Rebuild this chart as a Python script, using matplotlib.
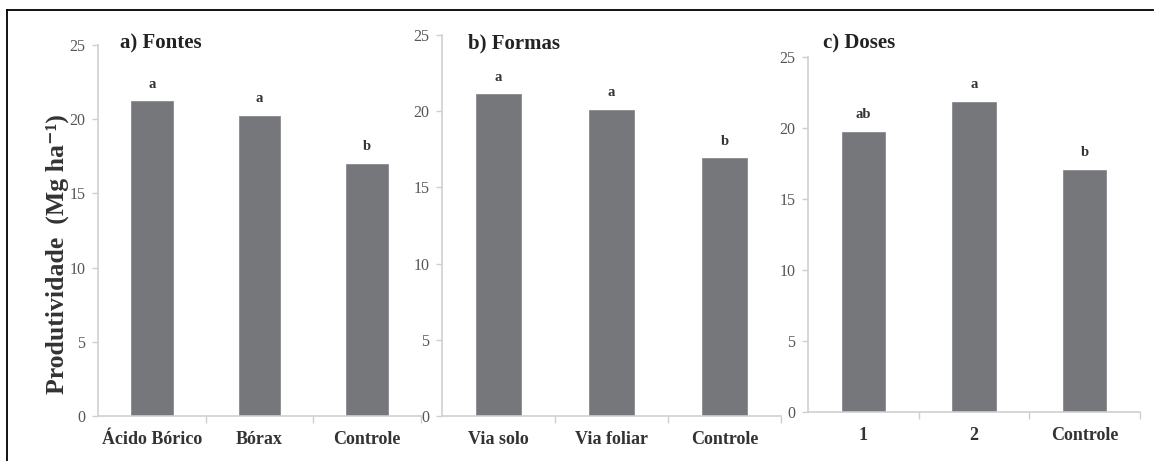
import numpy as np
import matplotlib.pyplot as plt
from matplotlib.lines import Line2D

plt.rcParams['font.family'] = ['Liberation Serif', 'DejaVu Serif']

# produtividade por tratamento (Mg ha-1)
fontes_labels = ['Ácido Bórico', 'Bórax', 'Controle']
fontes_vals = [21.2, 20.2, 17.0]
fontes_letras = ['a', 'a', 'b']

formas_labels = ['Via solo', 'Via foliar', 'Controle']
formas_vals = [21.1, 20.1, 16.9]
formas_letras = ['a', 'a', 'b']

doses_labels = ['1', '2', 'Controle']
doses_vals = [19.7, 21.8, 17.0]
doses_letras = ['ab', 'a', 'b']

titles = ['a) Fontes', 'b) Formas', 'c) Doses']

W, H = 1155, 461
fig = plt.figure(figsize=(W / 100, H / 100), dpi=100)

def box(x0, x1, ytop, ybot):
    return [x0 / W, 1 - ybot / H, (x1 - x0) / W, (ybot - ytop) / H]

# panel boxes in pixels: left, right, top (y=25), bottom (y=0), title pos
panels = [
    (box(98, 421, 45, 416), fontes_labels, fontes_vals, fontes_letras, (120, 43)),
    (box(442, 781, 35, 416), formas_labels, formas_vals, formas_letras, (468, 43)),
    (box(808, 1140, 56.7, 411.7), doses_labels, doses_vals, doses_letras, (823, 43)),
]

bar_color = '#76777b'
axis_color = '#cfcfcf'

for (rect, labels, vals, letras, tpos), title in zip(panels, titles):
    ax = fig.add_axes(rect)
    x = np.arange(len(vals)) + 0.5
    bars = ax.bar(x, vals, width=0.39, color=bar_color, edgecolor='#8a8b8f', linewidth=0.6)
    for b, v, l in zip(bars, vals, letras):
        ax.annotate(l, (b.get_x() + b.get_width() / 2, v), xytext=(0, 10),
                    textcoords='offset points', ha='center', va='baseline',
                    fontsize=10.5, fontweight='bold', color='#333333')
    ax.set_xlim(0, 3)
    ax.set_ylim(0, 25)
    ax.set_yticks([0, 5, 10, 15, 20, 25])
    ax.set_xticks(x)
    ax.set_xticklabels(labels, fontsize=13, fontweight='bold', color='#333333')
    ax.set_xticks([1, 2, 3], minor=True)
    ax.tick_params(axis='x', which='major', length=0, pad=11)
    ax.tick_params(axis='x', which='minor', length=5, color=axis_color, width=1)
    ax.tick_params(axis='y', length=4, color=axis_color, width=1,
                   labelsize=11.5, labelcolor='#555555', pad=5)
    for s in ['top', 'right']:
        ax.spines[s].set_visible(False)
    for s in ['left', 'bottom']:
        ax.spines[s].set_color(axis_color)
        ax.spines[s].set_linewidth(1.2)
    fig.text(tpos[0] / W, 1 - tpos[1] / H, title, fontsize=15, fontweight='bold',
             color='#222222', ha='left', va='center')

fig.text(57 / W, 1 - 254 / H, 'Produtividade  (Mg ha⁻¹)',
         rotation=90, ha='center', va='center', fontsize=18.5, fontweight='bold',
         color='#333333')

# moldura
fig.add_artist(Line2D([7 / W, 1153 / W], [1 - 10 / H, 1 - 10 / H], color='black', linewidth=1.3))
fig.add_artist(Line2D([7 / W, 7 / W], [0, 1 - 10 / H], color='black', linewidth=1.3))

fig.savefig('out.png', dpi=100, facecolor='white')
